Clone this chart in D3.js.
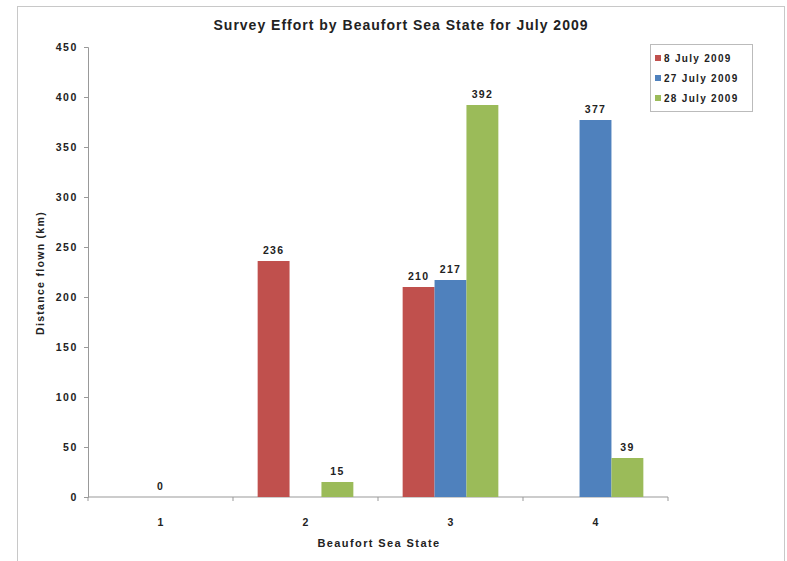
<!DOCTYPE html>
<html><head><meta charset="utf-8">
<script src="https://cdn.jsdelivr.net/npm/d3@7"></script>
<style>body{margin:0;background:#fff}text{font-family:"Liberation Sans",Arial,sans-serif}</style>
</head><body>
<svg id="c" width="787" height="561"></svg>
<script>
const categories = ["1","2","3","4"];
const seriesNames = ["8 July 2009","27 July 2009","28 July 2009"];
const seriesColors = ["#C0504D","#4F81BD","#9BBB59"];
const july8 = [null, 236, 210, null];
const july27 = [0, null, 217, 377];
const july28 = [null, 15, 392, 39];
const yTicks = [0,50,100,150,200,250,300,350,400,450];
const series = [july8, july27, july28];

const svg = d3.select("#c");
svg.append("rect").attr("x",17.5).attr("y",6.5).attr("width",767).attr("height",560)
  .attr("fill","#fff").attr("stroke","#c8c8c8");

const m = {l:88, r:668, t:47, b:497};
const x = d3.scaleBand().domain(categories).range([m.l,m.r]).paddingInner(0.34).paddingOuter(0.17);
const xs = d3.scaleBand().domain(d3.range(3)).range([0,x.bandwidth()]);
const y = d3.scaleLinear().domain([0,450]).range([m.b,m.t]);

// axes
const ya = svg.append("g").attr("transform",`translate(${m.l},0)`)
  .call(d3.axisLeft(y).tickValues(yTicks).tickSize(4).tickPadding(6));
ya.selectAll("path,line").attr("stroke","#999");
ya.selectAll("text").attr("font-size",10.5).attr("font-weight","bold").attr("fill","#222")
  .attr("letter-spacing",1.6);

const xg = svg.append("g").attr("transform",`translate(0,${m.b})`);
xg.append("line").attr("x1",m.l).attr("x2",m.r).attr("stroke","#999");
const bounds = d3.range(categories.length+1).map(i => m.l + i*(m.r-m.l)/categories.length);
xg.selectAll("line.t").data(bounds).join("line").attr("class","t")
  .attr("x1",d=>d).attr("x2",d=>d).attr("y1",0).attr("y2",4).attr("stroke","#999");
xg.selectAll("text").data(categories).join("text")
  .attr("x",d=>x(d)+x.bandwidth()/2).attr("y",29).attr("text-anchor","middle")
  .attr("font-size",10.5).attr("font-weight","bold").attr("fill","#222").text(d=>d);

// bars
series.forEach((s,si)=>{
  const g = svg.append("g");
  const pts = categories.map((c,i)=>({c, v:s[i]})).filter(d=>d.v!==null);
  g.selectAll("rect").data(pts).join("rect")
    .attr("x",d=>x(d.c)+xs(si)).attr("width",xs.bandwidth())
    .attr("y",d=>y(d.v)).attr("height",d=>y(0)-y(d.v)).attr("fill",seriesColors[si]);
  g.selectAll("text").data(pts).join("text")
    .attr("x",d=>x(d.c)+xs(si)+xs.bandwidth()/2).attr("y",d=>y(d.v)-7)
    .attr("text-anchor","middle").attr("font-size",10.5).attr("font-weight","bold").attr("fill","#222")
    .attr("letter-spacing",1.3).text(d=>d.v);
});

// titles
svg.append("text").attr("x",401).attr("y",30).attr("text-anchor","middle")
  .attr("font-size",14).attr("font-weight","bold").attr("fill","#222").attr("letter-spacing",1)
  .text("Survey Effort by Beaufort Sea State for July 2009");
svg.append("text").attr("x",379).attr("y",547).attr("text-anchor","middle")
  .attr("font-size",11).attr("font-weight","bold").attr("fill","#222").attr("letter-spacing",1.4)
  .text("Beaufort Sea State");
svg.append("text").attr("transform","translate(44,273) rotate(-90)").attr("text-anchor","middle")
  .attr("font-size",10.5).attr("font-weight","bold").attr("fill","#222").attr("letter-spacing",1.3)
  .text("Distance flown (km)");

// legend
const lg = svg.append("g");
lg.append("rect").attr("x",650.5).attr("y",44.5).attr("width",102).attr("height",67)
  .attr("fill","#fff").attr("stroke","#bbb");
seriesNames.forEach((n,i)=>{
  lg.append("rect").attr("x",655).attr("y",55+i*20).attr("width",6).attr("height",6).attr("fill",seriesColors[i]);
  lg.append("text").attr("x",664).attr("y",62+i*20).attr("font-size",10).attr("font-weight","bold")
    .attr("fill","#222").attr("letter-spacing",1.3).text(n);
});
</script>
</body></html>
